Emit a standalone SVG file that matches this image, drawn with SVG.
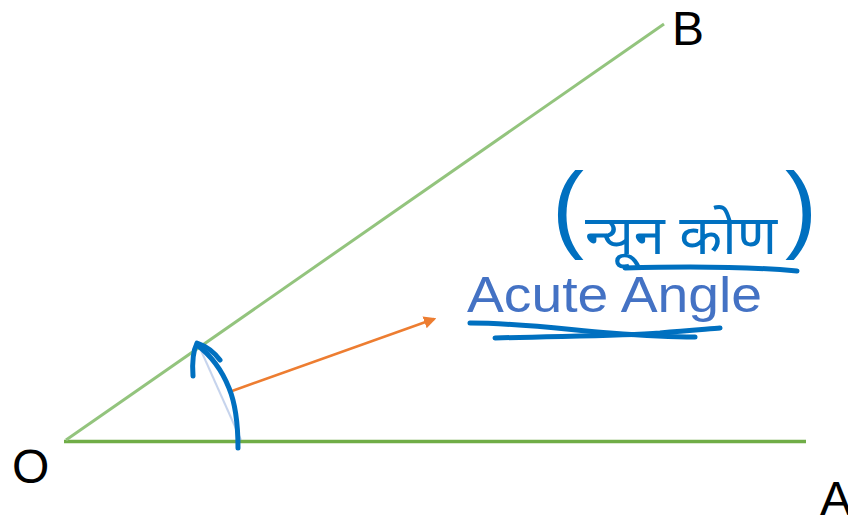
<svg xmlns="http://www.w3.org/2000/svg" width="848" height="516" viewBox="0 0 848 516">
<style>
.lbl{font-family:"Liberation Sans",Arial,sans-serif;font-size:48px;fill:#000}
.ink{fill:none;stroke:#0070c0;stroke-width:5;stroke-linecap:round;stroke-linejoin:round}
.hand{font-family:"Noto Sans Devanagari","Noto Sans","DejaVu Sans",sans-serif;fill:#0070c0}
</style>
<defs>
<marker id="ah" viewBox="0 0 10 10" refX="8" refY="5" markerWidth="5" markerHeight="5" orient="auto" markerUnits="strokeWidth">
<path d="M0,0 L10,5 L0,10 z" fill="#ed7d31"/>
</marker>
</defs>
<rect width="848" height="516" fill="#fff"/>
<g id="connectors">
<line id="OA" x1="64" y1="441.5" x2="806" y2="441.5" stroke="#70ad47" stroke-width="3.5"/>
<line id="OB" x1="66" y1="440" x2="664" y2="24" stroke="#93c47d" stroke-width="3"/>
<line id="pointer" x1="232" y1="391" x2="434" y2="319" stroke="#ed7d31" stroke-width="2.5" marker-end="url(#ah)"/>
</g>
<g id="node-O"><text class="lbl" x="12" y="483">O</text></g>
<g id="node-A"><text class="lbl" x="820" y="515">A</text></g>
<g id="node-B"><text class="lbl" x="672" y="45">B</text></g>
<g id="label-acute">
<text x="467" y="312" font-family="'Liberation Sans',Arial,sans-serif" font-size="50" fill="#4472c4" textLength="295" lengthAdjust="spacingAndGlyphs">Acute Angle</text>
</g>
<g id="annotation">
<line x1="199" y1="346" x2="241" y2="440" stroke="#8faadc" stroke-width="2" opacity="0.5"/>
<path class="ink" d="M238,448 C238,425 236,405 229,388 C221,368 209,354 197,345"/>
<path class="ink" d="M193,376 C192,362 193,351 197,343 C206,346 214,352 220,360"/>
<path class="ink" d="M470,323 C520,323 570,330 610,333 C650,336 680,337 695,337"/>
<path class="ink" d="M495,338 C560,336 620,336 660,333 C690,330 710,329 720,328"/>
<path class="ink" d="M625,268 C690,266 740,266 797,271"/>
<text class="hand"><tspan x="552" y="240" font-size="96" font-family="'Liberation Sans',Arial,sans-serif">(</tspan><tspan x="585" y="254" font-size="55" textLength="192" lengthAdjust="spacingAndGlyphs">न्यून कोण</tspan><tspan x="785" y="240" font-size="96" font-family="'Liberation Sans',Arial,sans-serif">)</tspan></text>
</g>
</svg>
